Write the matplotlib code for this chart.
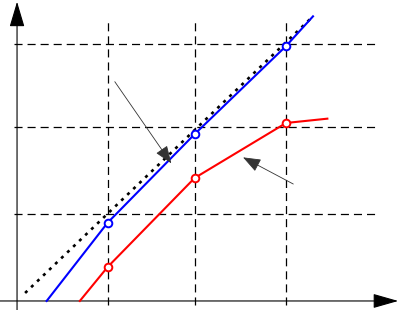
import matplotlib
matplotlib.use("Agg")
from matplotlib import pyplot as plt

# grid positions (data units)
grid_x = [1.01, 1.98, 3.0]
grid_y = [1.01, 2.02, 2.99]

# blue series: line ends + marked points
blue_x = [0.33, 1.01, 1.98, 3.0, 3.30]
blue_y = [0.0, 0.91, 1.94, 2.965, 3.31]
blue_mark_x = [1.01, 1.98, 3.0]
blue_mark_y = [0.91, 1.94, 2.965]

# red series
red_x = [0.70, 1.01, 1.98, 3.0, 3.46]
red_y = [0.0, 0.395, 1.43, 2.07, 2.12]
red_mark_x = [1.01, 1.98, 3.0]
red_mark_y = [0.395, 1.43, 2.07]

# dotted reference line
ref_x = [0.09, 3.30]
ref_y = [0.093, 3.31]

plt.rcParams['lines.scale_dashes'] = False

fig = plt.figure(figsize=(4, 3.1), dpi=100)
ax = fig.add_axes([0, 0, 1, 1])
ax.set_xlim(-0.19, 4.27)
ax.set_ylim(-0.105, 3.5)
ax.axis('off')

dash = (0, (5.8, 3.6))
for gx in grid_x:
    ax.plot([gx, gx], [-0.05, 3.24], color='black', lw=0.9, ls=dash)
for gy in grid_y:
    ax.plot([-0.033, 4.02], [gy, gy], color='black', lw=0.9, ls=dash)

# axes with arrow heads
ax.annotate('', xy=(0, 3.48), xytext=(0, -0.105),
            arrowprops=dict(arrowstyle='-|>,head_length=1.58,head_width=0.47',
                            mutation_scale=10, lw=0.8, color='black',
                            shrinkA=0, shrinkB=0))
ax.annotate('', xy=(4.25, 0), xytext=(-0.19, 0),
            arrowprops=dict(arrowstyle='-|>,head_length=1.58,head_width=0.45',
                            mutation_scale=10, lw=0.8, color='black',
                            shrinkA=0, shrinkB=0))

ax.plot(ref_x, ref_y, color='black', lw=1.9, ls=(0, (2.2, 3.8)), zorder=3)

ax.plot(blue_x, blue_y, color='#0000ff', lw=1.5, zorder=4)
ax.plot(blue_mark_x, blue_mark_y, 'o', ms=5.5, mfc='white', mec='#0000ff', mew=1.4, zorder=5)
ax.plot(red_x, red_y, color='#ff0000', lw=1.5, zorder=4)
ax.plot(red_mark_x, red_mark_y, 'o', ms=5.5, mfc='white', mec='#ff0000', mew=1.4, zorder=5)

# pointer arrows
ax.annotate('', xy=(1.72, 1.60), xytext=(1.09, 2.55),
            arrowprops=dict(arrowstyle='-|>,head_length=1.1,head_width=0.42',
                            mutation_scale=10, lw=0.6, color='#333333',
                            shrinkA=0, shrinkB=0), zorder=6)
ax.annotate('', xy=(2.52, 1.67), xytext=(3.08, 1.36),
            arrowprops=dict(arrowstyle='-|>,head_length=1.1,head_width=0.42',
                            mutation_scale=10, lw=0.6, color='#333333',
                            shrinkA=0, shrinkB=0), zorder=6)

plt.savefig("out.png", dpi=100)
